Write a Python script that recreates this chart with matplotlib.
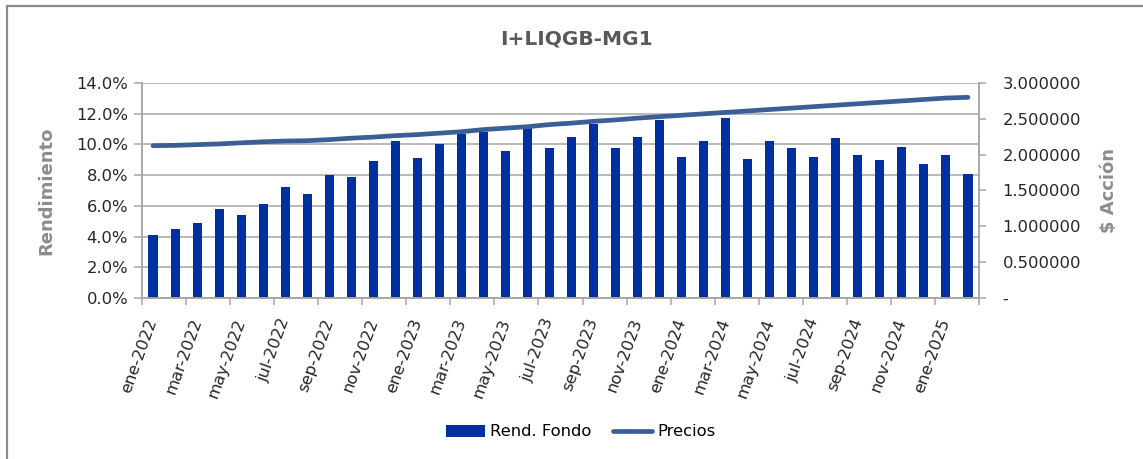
import numpy as np
import matplotlib
matplotlib.use('Agg')
import matplotlib.pyplot as plt
from matplotlib.lines import Line2D
from matplotlib.ticker import FuncFormatter

# datos
meses = ['ene', 'feb', 'mar', 'abr', 'may', 'jun', 'jul', 'ago', 'sep', 'oct', 'nov', 'dic']
periodos = [m + '-' + str(a) for a in (2022, 2023, 2024) for m in meses] + ['ene-2025', 'feb-2025']

rend_fondo = [4.1, 4.5, 4.9, 5.8, 5.4, 6.1, 7.2, 6.8, 8.0, 7.85, 8.95, 10.2,
              9.1, 10.0, 10.7, 10.8, 9.6, 11.1, 9.8, 10.5, 11.3, 9.8, 10.5, 11.6,
              9.2, 10.2, 11.75, 9.05, 10.25, 9.75, 9.2, 10.4, 9.3, 9.0, 9.85, 8.7,
              9.3, 8.05]

precios = [2.125, 2.13, 2.14, 2.15, 2.165, 2.18, 2.19, 2.195, 2.21, 2.23, 2.245, 2.265,
           2.28, 2.30, 2.32, 2.35, 2.37, 2.39, 2.42, 2.44, 2.465, 2.485, 2.51, 2.53,
           2.55, 2.57, 2.59, 2.61, 2.63, 2.65, 2.67, 2.69, 2.71, 2.73, 2.75, 2.77,
           2.79, 2.80]

titulo = 'I+LIQGB-MG1'
col_barra = '#0030a0'
col_linea = '#3a5f96'
col_gris = '#a6a6a6'

plt.rcParams['font.family'] = 'DejaVu Sans'
fig = plt.figure(figsize=(11.43, 4.59), dpi=100)
ax = fig.add_axes([142/1143, 1-298/459, 837/1143, 215/459])
ax2 = ax.twinx()

x = np.arange(len(periodos))
b = ax.bar(x, np.array(rend_fondo)/100, width=0.41, color=col_barra, zorder=2, label='Rend. Fondo')
l, = ax2.plot(x, precios, color=col_linea, lw=3.4, solid_capstyle='round', label='Precios', zorder=3)

ax.set_xlim(-0.5, len(periodos)-0.5)
ax.set_ylim(0, 0.14)
ax.set_yticks(np.arange(0, 0.141, 0.02))
ax.yaxis.set_major_formatter(FuncFormatter(lambda v, p: '%.1f%%' % (v*100)))
ax.grid(axis='y', color=col_gris, lw=1.1, zorder=0)
ax.set_axisbelow(True)

ax2.set_ylim(0, 3)
ax2.set_yticks(np.arange(0, 3.01, 0.5))
ax2.yaxis.set_major_formatter(FuncFormatter(lambda v, p: '-' if v == 0 else '%.6f' % v))

# etiquetas cada dos meses, marcas entre categorias
ax.set_xticks(x[::2])
ax.set_xticklabels(periodos[::2], rotation=70, ha='right', va='center', rotation_mode='anchor')
ax.set_xticks(np.arange(-0.5, len(periodos), 2), minor=True)
ax.tick_params(axis='x', which='major', length=0, pad=15, labelsize=11.8, colors='#262626')
ax.tick_params(axis='x', which='minor', length=5, width=1.1, color=col_gris)
ax.tick_params(axis='y', length=6, width=1.1, color=col_gris, labelsize=11.8, labelcolor='#262626', pad=4)
ax2.tick_params(axis='y', length=5, width=1.1, color=col_gris, labelsize=11.8, labelcolor='#262626', pad=12)

for a in (ax, ax2):
    for s in a.spines.values():
        s.set_color(col_gris)
        s.set_linewidth(1.1)
    a.spines['top'].set_visible(False)

ax.set_ylabel('Rendimiento', fontsize=13, fontweight='bold', color='#8c8c8c')
ax.yaxis.set_label_coords(-0.103, 0.5)
ax2.set_ylabel('$ Acción', fontsize=13, fontweight='bold', color='#8c8c8c')
ax2.yaxis.set_label_coords(1.144, 0.5)

fig.text(0.504, 1-39/459, titulo, ha='center', va='center', fontsize=14.5, fontweight='bold', color='#595959')

fig.legend([b, l], ['Rend. Fondo', 'Precios'], loc='center', bbox_to_anchor=(0.508, 1-432/459),
           ncol=2, frameon=False, fontsize=11.8, handlelength=2.4, handletextpad=0.3,
           columnspacing=1.3, handleheight=0.7)

# marco del area del grafico
fig.add_artist(Line2D([7/1143, 7/1143], [0, 1-6/459], color='#8c8c8c', lw=1.6))
fig.add_artist(Line2D([7/1143, 1], [1-6/459, 1-6/459], color='#8c8c8c', lw=1.6))

plt.savefig('out.png', dpi=100)
